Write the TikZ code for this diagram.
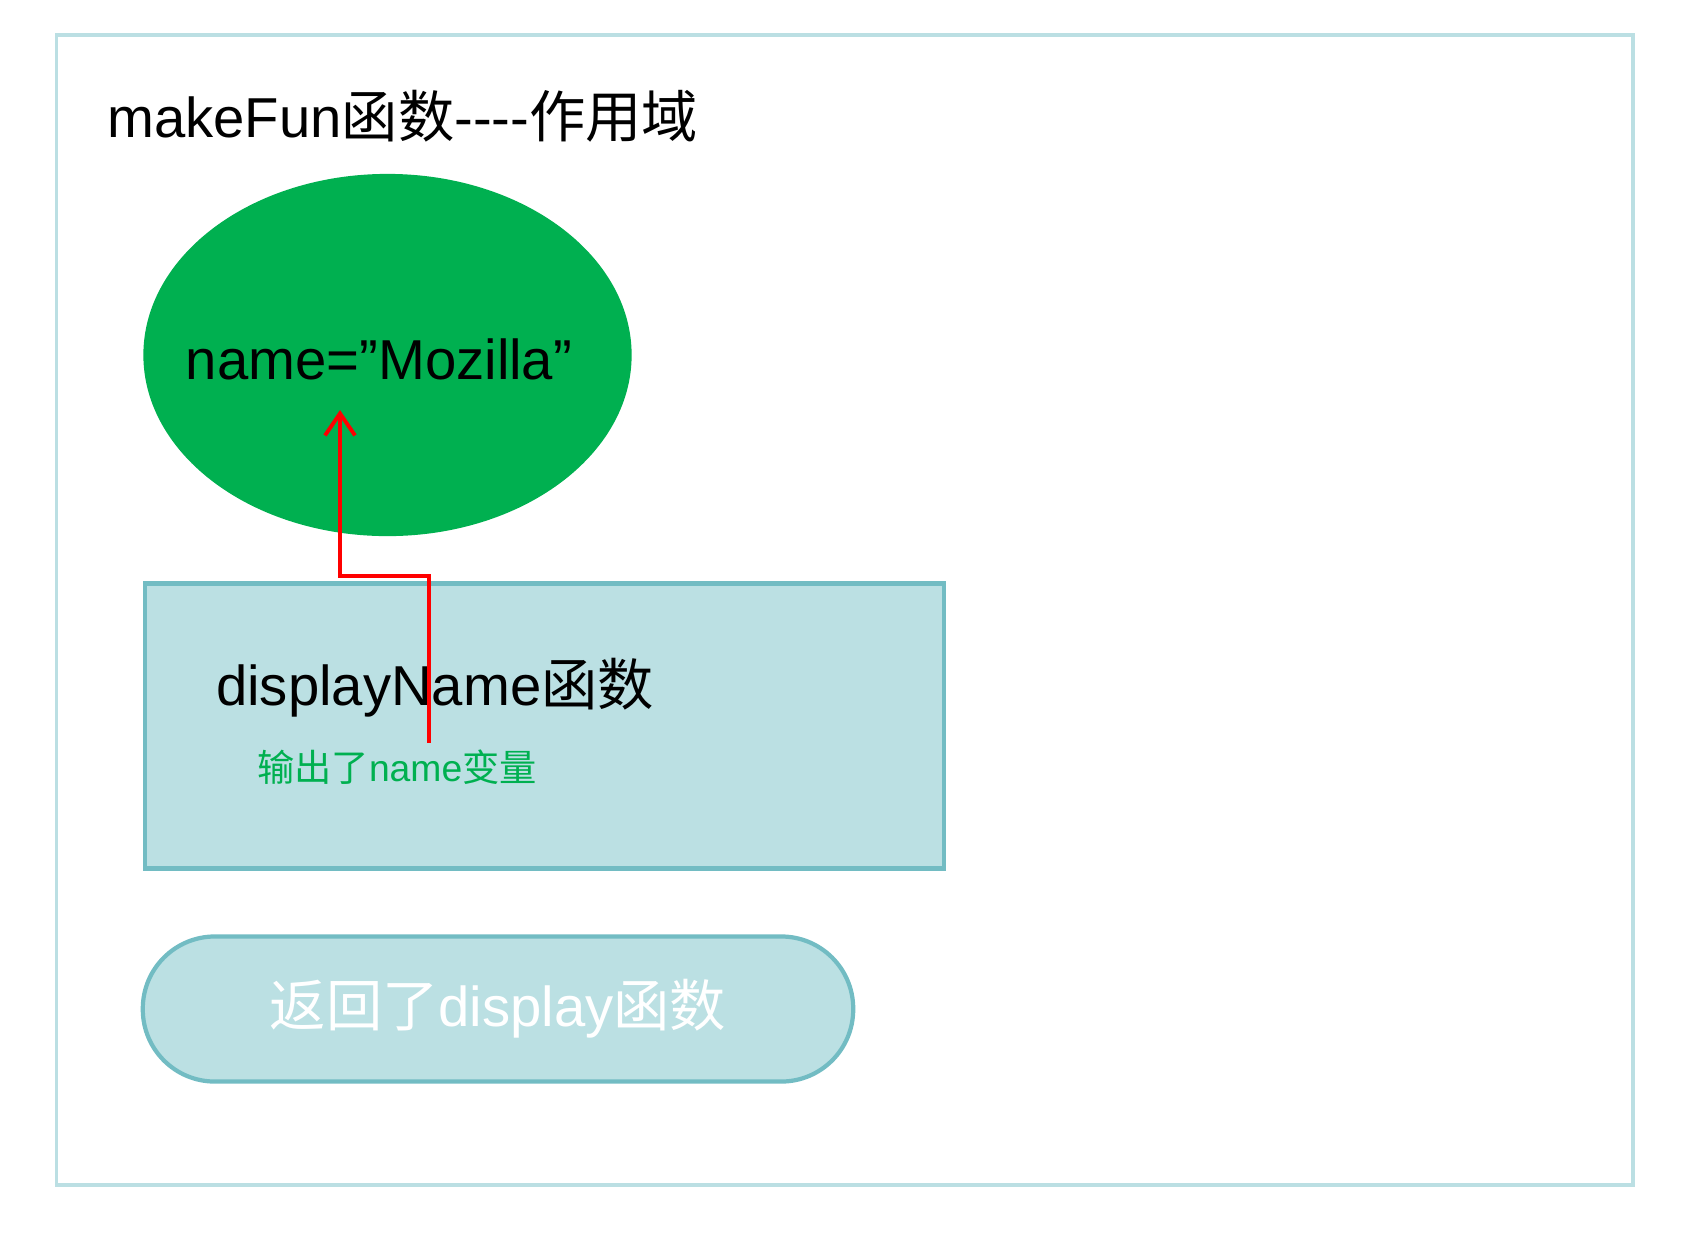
\documentclass[tikz,border=0pt]{standalone}
\usepackage{fontspec}
\setmainfont{Liberation Sans}
\newfontfamily\cjk{Noto Sans CJK SC}
\usepackage{tikz}
\usetikzlibrary{positioning}
\usetikzlibrary{shapes.geometric,arrows.meta}

\definecolor{scopegreen}{HTML}{00B050}
\definecolor{boxfill}{HTML}{BBE0E3}
\definecolor{boxline}{HTML}{72BCC3}
\definecolor{frameline}{HTML}{BBDFE3}

\tikzset{
  bigtext/.style={font=\fontsize{16}{19}\selectfont},
  smalltext/.style={font=\fontsize{10.6}{13}\selectfont},
  varcloud/.style={ellipse, fill=scopegreen, inner sep=0pt, minimum width=4.88cm, minimum height=3.62cm},
  funcbox/.style={rectangle, draw=boxline, line width=1.2pt, fill=boxfill, minimum width=7.98cm, minimum height=2.85cm},
  retpill/.style={rectangle, draw=boxline, line width=1.2pt, fill=boxfill, rounded corners=0.72cm, minimum width=7.1cm, minimum height=1.45cm},
  callline/.style={red, line width=1.1pt, -{Straight Barb[length=2.2mm,width=3mm]}}
}

\begin{document}
\begin{tikzpicture}[x=0.01cm, y=-0.01cm]

  \useasboundingbox (0,0) rectangle (1704,1239);

  %outer scope frame
  \draw[frameline, line width=1pt] (56.5,35) rectangle (1633,1185);
  \node[bigtext, anchor=west, inner sep=0pt] (scope) at (106.5,116) {makeFun{\cjk 函数}-{}-{}-{}-{\cjk 作用域}};

  %variable
  \node[varcloud] (cloud) at (387.5,355) {};
  \node[bigtext, inner sep=0pt] (name) at (379,359) {name=”Mozilla”};

  %inner function
  \node[funcbox] (display) at (544.6,726) {};
  \node[bigtext, inner sep=0pt] (dname) at (435,688) {displayName{\cjk 函数}};
  \node[smalltext, scopegreen, inner sep=0pt] (out) at (397,767) {{\cjk 输出了}name{\cjk 变量}};

  %return value
  \node[retpill, bigtext, text=white] (ret) at (498,1009) {{\cjk 返回了}display{\cjk 函数}};

  %lookup of name
  \coordinate (from) at (429,742.5);
  \coordinate (to) at (340,410);
  \draw[callline] (from) -- (from |- 0,576) -| (to);

\end{tikzpicture}
\end{document}
